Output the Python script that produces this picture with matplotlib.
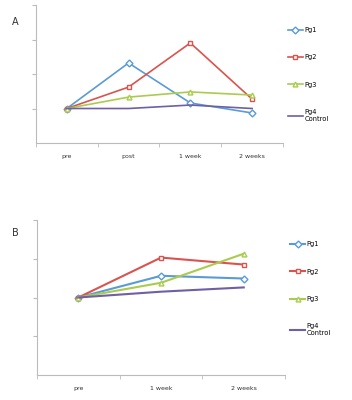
import matplotlib
matplotlib.use('Agg')
import matplotlib.pyplot as plt

# Panel A
cats_a = ['pre', 'post', '1 week', '2 weeks']
pg1_a = [1.0, 2.32, 1.16, 0.87]
pg2_a = [1.0, 1.62, 2.90, 1.27]
pg3_a = [1.0, 1.33, 1.48, 1.39]
pg4_a = [1.0, 1.00, 1.10, 1.00]

# Panel B
cats_b = ['pre', '1 week', '2 weeks']
pg1_b = [2.0, 2.56, 2.49]
pg2_b = [2.0, 3.03, 2.85]
pg3_b = [2.0, 2.38, 3.13]
pg4_b = [2.0, 2.15, 2.26]

labels = ['Pg1', 'Pg2', 'Pg3', 'Pg4\nControl']
colors = ['#5B9BD5', '#D9534F', '#A9CC4E', '#6E5FA6']
markers = ['D', 's', '^', None]


def draw_panel(ax, cats, series, lw, legend_y):
    x = list(range(len(cats)))
    for vals, lab, col, mk in zip(series, labels, colors, markers):
        ax.plot(x, vals, color=col, lw=lw, marker=mk, ms=3.5,
                mfc='white', mec=col, mew=1.0, label=lab)
    ax.set_xlim(-0.5, len(cats) - 0.5)
    ax.set_ylim(0, 4)
    ax.set_xticks(x)
    ax.set_xticklabels(cats, fontsize=4.5, color='#333333')
    ax.set_xticks([i + 0.5 for i in range(-1, len(cats))], minor=True)
    ax.tick_params(axis='x', which='major', length=0, pad=8)
    ax.tick_params(axis='x', which='minor', length=3, color='#bbbbbb')
    ax.set_yticks([1, 2, 3, 4])
    ax.set_yticklabels([])
    ax.tick_params(axis='y', length=3, color='#bbbbbb')
    for s in ['top', 'right']:
        ax.spines[s].set_visible(False)
    for s in ['left', 'bottom']:
        ax.spines[s].set_color('#bbbbbb')
        ax.spines[s].set_linewidth(0.8)
    ax.legend(loc='upper left', bbox_to_anchor=(1.01, legend_y), frameon=False,
              fontsize=4.8, labelspacing=3.2, handlelength=2.2,
              handletextpad=0.2, borderaxespad=0)


fig = plt.figure(figsize=(3.52, 4.0), dpi=100)
ax_a = fig.add_axes([0.102, 0.6425, 0.702, 0.345])
ax_b = fig.add_axes([0.105, 0.0625, 0.705, 0.3875])

draw_panel(ax_a, cats_a, [pg1_a, pg2_a, pg3_a, pg4_a], 1.2, 0.86)
draw_panel(ax_b, cats_b, [pg1_b, pg2_b, pg3_b, pg4_b], 1.5, 0.88)

fig.text(12 / 352, 1 - 22 / 400, 'A', fontsize=7, color='#333333', va='center')
fig.text(12 / 352, 1 - 233 / 400, 'B', fontsize=7, color='#333333', va='center')

fig.savefig('out.png', dpi=100)
